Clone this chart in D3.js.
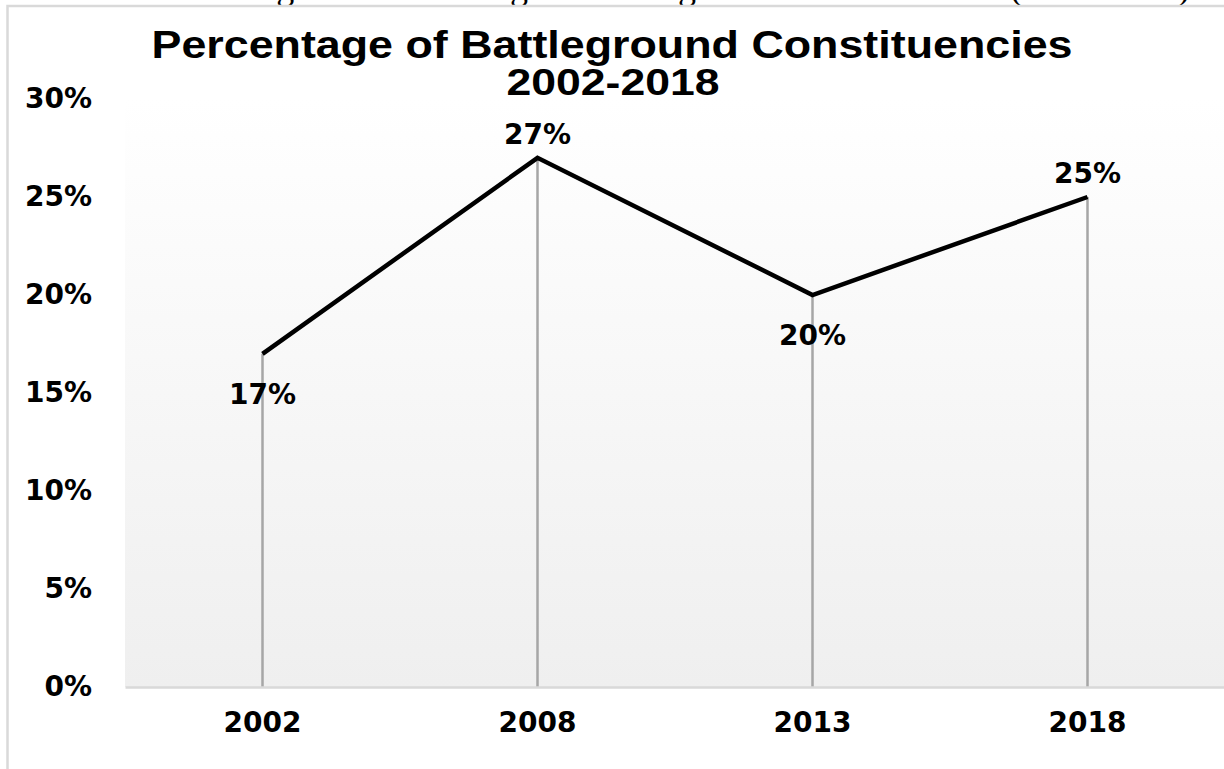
<!DOCTYPE html>
<html>
<head>
<meta charset="utf-8">
<script src="https://cdn.jsdelivr.net/npm/d3@7"></script>
<style>
  body { margin: 0; background: #ffffff; }
  text { fill: #000; }
</style>
</head>
<body>
<svg id="chart" width="1224" height="769"></svg>
<script>
// Election years and share of battleground constituencies (%)
const years = ["2002", "2008", "2013", "2018"];
const shares = [17, 27, 20, 25];
const yTicks = [0, 5, 10, 15, 20, 25, 30];
// Which value labels sit above their point (others sit below)
const labelAbove = [false, true, false, true];

const titleLines = ["Percentage of Battleground Constituencies", "2002-2018"];
const captionText = "Figure 3: Percentage of Battleground Constituencies (2002-2018)";

const svg = d3.select("#chart");
const W = 1224, H = 769;
const plot = { left: 125, right: 1225, top: 99, bottom: 687 };
const labelFont = "'DejaVu Sans', sans-serif";

// Caption line of the surrounding document, cut off at the top edge
svg.append("clipPath").attr("id", "capClip")
  .append("rect").attr("x", 0).attr("y", 0).attr("width", W).attr("height", 5);
svg.append("text")
  .attr("clip-path", "url(#capClip)")
  .attr("x", 1190).attr("y", -1)
  .attr("text-anchor", "end")
  .style("font-family", "'Liberation Serif', serif")
  .style("font-size", "36px")
  .text(captionText);

// Chart frame
svg.append("rect")
  .attr("x", 7.5).attr("y", 6).attr("width", W + 20).attr("height", H + 20)
  .attr("fill", "#ffffff").attr("stroke", "#d9d9d9").attr("stroke-width", 2.5);

// Plot background gradient
const defs = svg.append("defs");
const grad = defs.append("linearGradient").attr("id", "plotBg")
  .attr("x1", 0).attr("y1", 0).attr("x2", 0).attr("y2", 1);
grad.append("stop").attr("offset", "0%").attr("stop-color", "#ffffff");
grad.append("stop").attr("offset", "100%").attr("stop-color", "#efefef");

svg.append("rect")
  .attr("x", plot.left).attr("y", plot.top)
  .attr("width", plot.right - plot.left).attr("height", plot.bottom - plot.top)
  .attr("fill", "url(#plotBg)");

// Scales
const x = d3.scaleBand().domain(years).range([plot.left, plot.right]);
const y = d3.scaleLinear().domain([0, 30]).range([plot.bottom, plot.top]);
const cx = d => x(d) + x.bandwidth() / 2;

// Y axis (labels only)
const yAxis = svg.append("g")
  .attr("transform", `translate(${plot.left},0)`)
  .call(d3.axisLeft(y).tickValues(yTicks).tickSize(0).tickPadding(33)
    .tickFormat(d => d + "%"));
yAxis.select(".domain").remove();
yAxis.selectAll("text")
  .style("font-family", labelFont).style("font-size", "28px")
  .style("font-weight", "bold").attr("fill", "#000");

// Drop lines from each point to the baseline
svg.append("g").selectAll("line")
  .data(years)
  .join("line")
  .attr("x1", d => cx(d)).attr("x2", d => cx(d))
  .attr("y1", (d, i) => y(shares[i])).attr("y2", y(0))
  .attr("stroke", "#a6a6a6").attr("stroke-width", 2.5);

// X axis
const xAxis = svg.append("g")
  .attr("transform", `translate(0,${plot.bottom})`)
  .call(d3.axisBottom(x).tickSize(0).tickPadding(25));
xAxis.select(".domain").attr("stroke", "#d9d9d9").attr("stroke-width", 2.5);
xAxis.selectAll("text")
  .style("font-family", labelFont).style("font-size", "28px")
  .style("font-weight", "bold").attr("fill", "#000");

// Line
const line = d3.line().x((d, i) => cx(years[i])).y(d => y(d));
svg.append("path")
  .datum(shares)
  .attr("d", line)
  .attr("fill", "none").attr("stroke", "#000")
  .attr("stroke-width", 4.5).attr("stroke-linejoin", "miter");

// Value labels
svg.append("g").selectAll("text")
  .data(shares)
  .join("text")
  .attr("x", (d, i) => cx(years[i]))
  .attr("y", (d, i) => y(d) + (labelAbove[i] ? -24 : 40))
  .attr("dy", "0.36em")
  .attr("text-anchor", "middle")
  .style("font-family", labelFont).style("font-size", "28px")
  .style("font-weight", "bold")
  .text(d => d + "%");

// Title
svg.append("text")
  .attr("x", 612).attr("y", 58)
  .attr("text-anchor", "middle")
  .attr("textLength", 921).attr("lengthAdjust", "spacingAndGlyphs")
  .style("font-family", "'Liberation Sans', Arial, sans-serif")
  .style("font-size", "38px").style("font-weight", "bold")
  .text(titleLines[0]);
svg.append("text")
  .attr("x", 613).attr("y", 95)
  .attr("text-anchor", "middle")
  .attr("textLength", 213).attr("lengthAdjust", "spacingAndGlyphs")
  .style("font-family", "'Liberation Sans', Arial, sans-serif")
  .style("font-size", "36px").style("font-weight", "bold")
  .text(titleLines[1]);
</script>
</body>
</html>
